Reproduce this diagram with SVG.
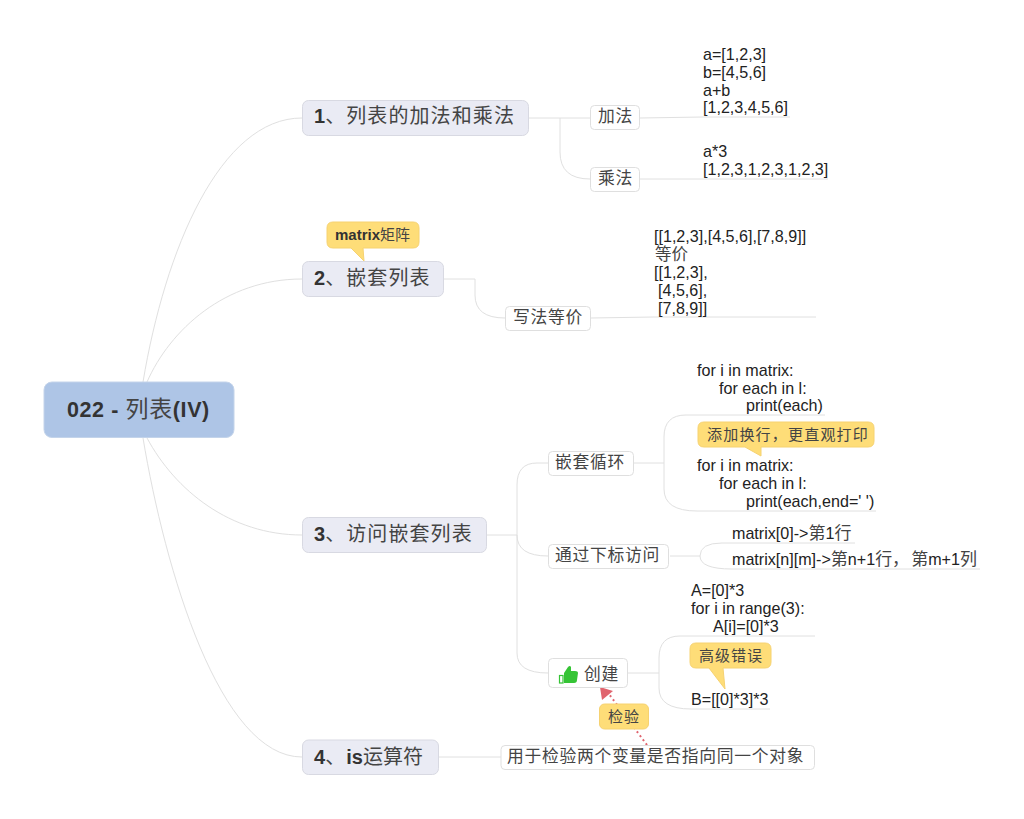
<svg xmlns="http://www.w3.org/2000/svg" width="1024" height="819" viewBox="0 0 1024 819">
<style>
text{font-family:"Liberation Sans","Noto Sans CJK SC",sans-serif;fill:#333}
.cn{font-family:"Noto Sans CJK SC",sans-serif;font-weight:400;fill:#444}
.c{fill:none;stroke:#e0e0e0;stroke-width:1}
.root{fill:#aec5e6;stroke:#c4d4ea;stroke-width:1}
.main{fill:#eaebf4;stroke:#d8d9e2;stroke-width:1}
.sub{fill:#fff;stroke:#dfdfdf;stroke-width:1}
.note{fill:#fedd78;stroke:#f6d271;stroke-width:1}
.t1{font-size:20px;font-weight:700}
.t2{font-size:16.800px;letter-spacing:0.700px}
.d{font-size:16.100px;fill:#222}
.n{font-size:15px;font-weight:700;fill:#333}
</style>
<g id="connectors">
<path class="c" d="M143 382C165 250 220 118 302 118"/>
<path class="c" d="M147 382C170 330 225 279 302 279"/>
<path class="c" d="M147 438C175 490 230 535 302 535"/>
<path class="c" d="M143 438C165 570 220 757 302 757"/>
<path class="c" d="M529 118H590"/>
<path class="c" d="M560 118V152Q560 179 590 179"/>
<path class="c" d="M640 118L703 117H790"/>
<path class="c" d="M640 179H828"/>
<path class="c" d="M444 279H475V295Q475 318 505 318"/>
<path class="c" d="M591 318L654 317H816"/>
<path class="c" d="M487 535H517"/>
<path class="c" d="M548 463H537Q517 463 517 485V653Q517 673 548 673"/>
<path class="c" d="M517 535Q517 556 548 556"/>
<path class="c" d="M634 463H664"/>
<path class="c" d="M697 415H686Q664 415 664 437V489Q664 511 697 511"/>
<path class="c" d="M697 415H825"/>
<path class="c" d="M697 511H876"/>
<path class="c" d="M670 556H700"/>
<path class="c" d="M732 543H722Q700 543 700 556Q700 569 732 569"/>
<path class="c" d="M732 543H855"/>
<path class="c" d="M732 569H980"/>
<path class="c" d="M628 673H659"/>
<path class="c" d="M691 636H680Q659 636 659 658V688Q659 709 691 709"/>
<path class="c" d="M691 636H815"/>
<path class="c" d="M691 709H770"/>
<path class="c" d="M439 757H501"/>
<path d="M647 745L609 694" fill="none" stroke="#e0646e" stroke-width="2" stroke-dasharray="2 3"/>
<path d="M600 687L613 691L602 700Z" fill="#e0646e"/>
</g>
<g id="root"><rect class="root" x="44" y="382" width="190" height="55.500" rx="8"/><text font-size="21.500" font-weight="700" x="67" y="417" letter-spacing="0.600">022 - <tspan class="cn" font-size="23">列表</tspan>(IV)</text></g>
<g id="topic1"><rect class="main" x="302.500" y="100.500" width="226" height="35" rx="6"/><text class="t1" x="314" y="123">1<tspan class="cn" letter-spacing="1.100">、列表的加法和乘法</tspan></text></g>
<g id="add"><rect class="sub" x="590.500" y="105.500" width="49" height="24" rx="4"/><text class="t2 cn" x="598" y="122">加法</text></g>
<g id="add-detail"><text class="d" x="703" y="60">a=[1,2,3]</text><text class="d" x="703" y="78">b=[4,5,6]</text><text class="d" x="703" y="96">a+b</text><text class="d" x="703" y="113">[1,2,3,4,5,6]</text></g>
<g id="mul"><rect class="sub" x="590.500" y="167.500" width="49" height="24" rx="4"/><text class="t2 cn" x="598" y="184">乘法</text></g>
<g id="mul-detail"><text class="d" x="703" y="157">a*3</text><text class="d" x="703" y="175">[1,2,3,1,2,3,1,2,3]</text></g>
<g id="topic2"><rect class="main" x="302.500" y="261.500" width="141" height="35" rx="6"/><text class="t1" x="314" y="285">2<tspan class="cn" letter-spacing="1.100">、嵌套列表</tspan></text></g>
<g id="note-matrix"><path class="note" d="M333 222H413Q419 222 419 228V242Q419 248 413 248H363L364 261L351 248H333Q327 248 327 242V228Q327 222 333 222Z"/><text class="n" x="335" y="240">matrix<tspan class="cn" font-size="15">矩阵</tspan></text></g>
<g id="equal"><rect class="sub" x="505.500" y="306.500" width="85" height="24" rx="4"/><text class="t2 cn" x="513" y="323">写法等价</text></g>
<g id="equal-detail"><text class="d" x="654" y="242">[[1,2,3],[4,5,6],[7,8,9]]</text><text class="cn" font-size="16.500" x="655" y="260">等价</text><text class="d" x="654" y="278">[[1,2,3],</text><text class="d" x="658" y="296">[4,5,6],</text><text class="d" x="658" y="314">[7,8,9]]</text></g>
<g id="topic3"><rect class="main" x="302.500" y="517.500" width="184" height="35" rx="6"/><text class="t1" x="314" y="541">3<tspan class="cn" letter-spacing="1.100">、访问嵌套列表</tspan></text></g>
<g id="loop"><rect class="sub" x="548.500" y="451.500" width="85" height="24" rx="4"/><text class="t2 cn" x="555" y="468">嵌套循环</text></g>
<g id="loop-detail"><text class="d" x="697" y="376">for i in matrix:</text><text class="d" x="719" y="394">for each in l:</text><text class="d" x="746" y="411">print(each)</text><text class="d" x="697" y="471">for i in matrix:</text><text class="d" x="719" y="489">for each in l:</text><text class="d" x="746" y="507">print(each,end=' ')</text></g>
<g id="note-newline"><path class="note" d="M704 422H868Q874 422 874 428V441Q874 447 868 447H761L761 456L745 447H704Q698 447 698 441V428Q698 422 704 422Z"/><text class="cn" font-size="15" x="707" y="440" letter-spacing="1.200">添加换行，更直观打印</text></g>
<g id="index"><rect class="sub" x="548.500" y="544.500" width="120" height="24" rx="4"/><text class="t2 cn" x="555" y="561">通过下标访问</text></g>
<g id="index-detail"><text class="d" x="732" y="539">matrix[0]-&gt;<tspan class="cn" font-size="17">第</tspan>1<tspan class="cn" font-size="17">行</tspan></text><text class="d" x="732" y="565">matrix[n][m]-&gt;<tspan class="cn" font-size="17">第</tspan>n+1<tspan class="cn" font-size="17">行，</tspan><tspan dx="2" class="cn" font-size="17">第</tspan>m+1<tspan class="cn" font-size="17">列</tspan></text></g>
<g id="create"><rect class="sub" x="548.500" y="658.500" width="79" height="29" rx="4"/>
<path d="M565 683H574Q577 683 577 680L578 673Q578 671 575 671H571L571 667Q570 665 568 667L564 673V683Z" fill="#35c435"/><rect x="559.500" y="675.500" width="3.500" height="7.500" fill="none" stroke="#35c435" stroke-width="1.200"/>
<text class="t2 cn" x="584" y="680">创建</text></g>
<g id="create-detail"><text class="d" x="691" y="596">A=[0]*3</text><text class="d" x="691" y="614">for i in range(3):</text><text class="d" x="713" y="632">A[i]=[0]*3</text><text class="d" x="691" y="705">B=[[0]*3]*3</text></g>
<g id="note-error"><path class="note" d="M696 643H765Q771 643 771 649V662Q771 668 765 668H723L725 689L709 668H696Q690 668 690 662V649Q690 643 696 643Z"/><text class="cn" font-size="15" x="699" y="661" letter-spacing="1">高级错误</text></g>
<g id="topic4"><rect class="main" x="302.500" y="740" width="136" height="34.500" rx="6"/><text class="t1" x="314" y="764">4<tspan class="cn" letter-spacing="1.100">、</tspan>is<tspan class="cn">运算符</tspan></text></g>
<g id="is-detail"><rect class="sub" x="501" y="745.500" width="313.500" height="24" rx="4"/><text class="t2 cn" x="507" y="762">用于检验两个变量是否指向同一个对象</text></g>
<g id="note-check"><rect class="note" x="599.500" y="704" width="49" height="25" rx="5"/><text class="cn" font-size="15" x="608" y="722" letter-spacing="1">检验</text></g>
</svg>
